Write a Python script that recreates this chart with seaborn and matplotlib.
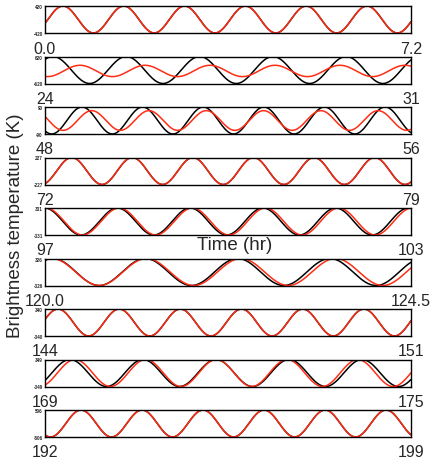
import numpy as np
import pandas as pd
import matplotlib
matplotlib.use("Agg")
import matplotlib.pyplot as plt
import seaborn as sns

# Time window of each panel (hours) and the labels printed under its ends
t_start = [0.0, 24.0, 48.0, 72.0, 97.0, 120.0, 144.0, 169.0, 192.0]
t_end = [7.2, 31.0, 56.0, 79.0, 103.0, 124.5, 151.0, 175.0, 199.0]
start_labels = ["0.0", "24", "48", "72", "97", "120.0", "144", "169", "192"]
end_labels = ["7.2", "31", "56", "79", "103", "124.5", "151", "175", "199"]

# Amplitude / y-range of each panel (K)
amplitude = [420, 620, 90, 227, 331, 326, 340, 349, 506]

# Black curve: period (hr) and time of first maximum (hr)
black_period = [1.196, 1.402, 1.325, 1.159, 1.193, 1.135, 1.170, 1.197, 1.167]
black_peak = [0.354, 24.153, 48.809, 72.511, 96.994, 120.098, 144.249, 169.410, 192.689]

# Red curve: period (hr), first maximum (hr), relative amplitude and offset
red_period = [1.196, 1.243, 1.252, 1.159, 1.200, 1.162, 1.170, 1.159, 1.167]
red_peak = [0.354, 24.669, 49.021, 72.511, 97.016, 120.086, 144.249, 169.492, 192.689]
red_scale = [1.0, 0.42, 0.73, 1.0, 1.0, 1.0, 1.0, 1.0, 1.0]
red_shift = [0.0, -0.07, 0.0, 0.0, 0.0, 0.0, 0.0, 0.0, 0.0]

RED = "#ff2d14"

sns.set_style("white")
plt.rcParams["font.family"] = ["Liberation Sans", "DejaVu Sans"]

W, H = 432, 460
fig = plt.figure(figsize=(W / 100, H / 100), dpi=100)

left_px, width_px, height_px = 45, 366, 27
for i in range(len(t_start)):
    top_px = 7 + 50.5 * i
    ax = fig.add_axes([left_px / W, 1 - (top_px + height_px) / H,
                       width_px / W, height_px / H])
    t = np.linspace(t_start[i], t_end[i], 800)
    A = amplitude[i]
    black = A * np.cos(2 * np.pi * (t - black_peak[i]) / black_period[i])
    red = A * (red_scale[i] * np.cos(2 * np.pi * (t - red_peak[i]) / red_period[i])
               + red_shift[i])
    df = pd.DataFrame({
        "time": np.concatenate([t, t]),
        "tb": np.concatenate([black, red]),
        "series": ["model"] * len(t) + ["observed"] * len(t),
    })
    sns.lineplot(data=df, x="time", y="tb", hue="series",
                 palette={"model": "black", "observed": RED},
                 estimator=None, legend=False, linewidth=1.1, ax=ax)
    ax.set_xlim(t_start[i], t_end[i])
    ax.set_ylim(-A, A)
    ax.set_xticks([])
    ax.set_yticks([-A, A])
    ax.set_yticklabels([f"-{A}", f"{A}"], fontsize=3.3, fontweight="bold")
    ax.tick_params(axis="y", length=0, pad=1.5)
    ax.set_xlabel("")
    ax.set_ylabel("")
    for sp in ax.spines.values():
        sp.set_visible(True)
        sp.set_color("black")
        sp.set_linewidth(1.0)
    base_px = top_px + height_px + 19.5
    fig.text(left_px / W, 1 - base_px / H, start_labels[i],
             ha="center", va="baseline", fontsize=11.5)
    fig.text((left_px + width_px) / W, 1 - base_px / H, end_labels[i],
             ha="center", va="baseline", fontsize=11.5)

fig.text(235 / W, 1 - 246 / H, "Time (hr)", ha="center", va="center", fontsize=13.5)
fig.text(16 / W, 1 - 226 / H, "Brightness temperature (K)", rotation=90,
         ha="center", va="center", fontsize=13.5)

fig.savefig("out.png", dpi=100)
